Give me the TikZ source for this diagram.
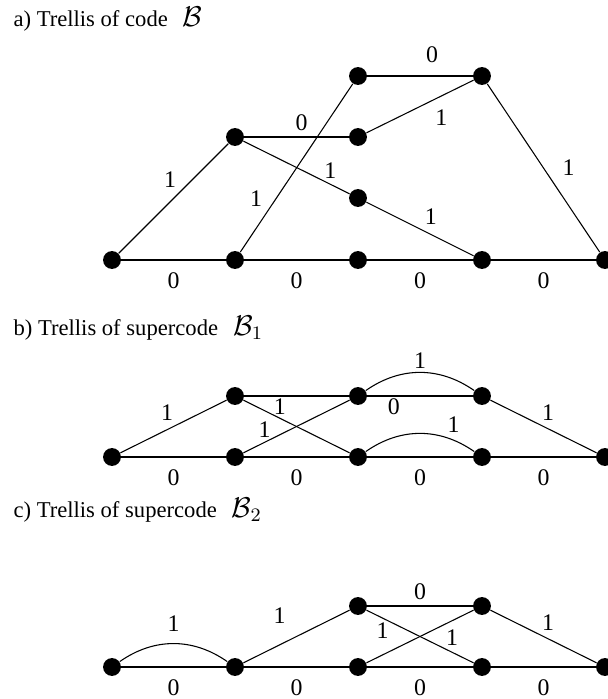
\documentclass[tikz,border=0pt]{standalone}
\usepackage{fontspec}
\setmainfont{Liberation Serif}

\begin{document}
\begin{tikzpicture}[
  x=0.42pt, y=-0.42pt,
  font=\fontsize{10}{12}\selectfont,
  line width=0.45pt,
  dot/.style={circle, fill, inner sep=0pt, minimum size=7.5pt},
  lab/.style={inner sep=0pt},
  bot/.style={lab, midway, below=5pt},
  title/.style={anchor=base west, inner sep=0pt, font=\fontsize{9.5}{11}\selectfont}
]
  \useasboundingbox (0,0) rectangle (608,699);

  \node[title] (ta) at (13,27) {a) Trellis of code\ \ \,{\large$\mathcal{B}$}};
  \node[title] (tb) at (13,335) {b) Trellis of supercode\ \ \,{\large$\mathcal{B}_1$}};
  \node[title] (tc) at (13,517) {c) Trellis of supercode\ \ \,{\large$\mathcal{B}_2$}};

  \node[dot] (a0) at (112,260) {};
  \node[dot] (a1t) at (235,137) {};
  \node[dot] (a1b) at (235,260) {};
  \node[dot] (a2t) at (358,76) {};
  \node[dot] (a2m) at (358,137) {};
  \node[dot] (a2l) at (358,198) {};
  \node[dot] (a2b) at (358,260) {};
  \node[dot] (a3t) at (482,76) {};
  \node[dot] (a3b) at (482,260) {};
  \node[dot] (a4) at (605,260) {};

  \draw (a0) -- node[bot] {0} (a1b);
  \draw (a0) -- node[lab, midway, shift={(-3.5,-18.5)}] {1} (a1t);
  \draw (a1b) -- node[bot] {0} (a2b);
  \draw (a1b) -- node[lab, pos=0.3, shift={(-18,-3)}] {1} (a2t);
  \draw (a1t) -- node[lab, midway, shift={(5,-14)}] {0} (a2m);
  \draw (a1t) -- node[lab, pos=0.8, shift={(2,-13)}] {1} (a2l);
  \draw (a2t) -- node[lab, midway, shift={(12,-21)}] {0} (a3t);
  \draw (a2m) -- node[lab, pos=0.7, shift={(0,22)}] {1} (a3t);
  \draw (a2l) -- node[lab, pos=0.6, shift={(0,-18)}] {1} (a3b);
  \draw (a2b) -- node[bot] {0} (a3b);
  \draw (a3t) -- node[lab, midway, shift={(25,0)}] {1} (a4);
  \draw (a3b) -- node[bot] {0} (a4);

  \node[dot] (b0) at (112,457) {};
  \node[dot] (b1t) at (235,396) {};
  \node[dot] (b1b) at (235,457) {};
  \node[dot] (b2t) at (358,396) {};
  \node[dot] (b2b) at (358,457) {};
  \node[dot] (b3t) at (482,396) {};
  \node[dot] (b3b) at (482,457) {};
  \node[dot] (b4) at (605,457) {};

  \draw (b0) -- node[lab, midway, shift={(-6.5,-13.5)}] {1} (b1t);
  \draw (b0) -- node[bot] {0} (b1b);
  \draw (b1t) -- node[lab, pos=0.34, shift={(0,11)}] {1} (b2t);
  \draw (b1t) -- (b2b);
  \draw (b1b) -- node[lab, pos=0.2, shift={(0,-13)}] {1} (b2t);
  \draw (b1b) -- node[bot] {0} (b2b);
  \draw (b2t) -- node[lab, pos=0.25, shift={(0,11)}] {0} (b3t);
  \draw (b2t) to[bend left=35] node[lab, midway, shift={(0,-12)}] {1} (b3t);
  \draw (b2b) -- node[bot] {0} (b3b);
  \draw (b2b) to[bend left=35] node[lab, pos=0.75, shift={(6,-13)}] {1} (b3b);
  \draw (b3t) -- node[lab, midway, shift={(4.5,-13.5)}] {1} (b4);
  \draw (b3b) -- node[bot] {0} (b4);

  \node[dot] (c0) at (112,667) {};
  \node[dot] (c1) at (235,667) {};
  \node[dot] (c2t) at (358,606) {};
  \node[dot] (c2b) at (358,667) {};
  \node[dot] (c3t) at (482,606) {};
  \node[dot] (c3b) at (482,667) {};
  \node[dot] (c4) at (605,667) {};

  \draw (c0) -- node[bot] {0} (c1);
  \draw (c0) to[bend left=35] node[lab, midway, shift={(0,-20)}] {1} (c1);
  \draw (c1) -- node[lab, pos=0.34, shift={(0,-29)}] {1} (c2t);
  \draw (c1) -- node[bot] {0} (c2b);
  \draw (c2t) -- node[lab, midway, shift={(0,-14)}] {0} (c3t);
  \draw (c2t) -- node[lab, pos=0.15, shift={(0,13)}] {1} (c3b);
  \draw (c2b) -- node[lab, pos=0.8, shift={(0,17)}] {1} (c3t);
  \draw (c2b) -- node[bot] {0} (c3b);
  \draw (c3t) -- node[lab, midway, shift={(4.5,-13.5)}] {1} (c4);
  \draw (c3b) -- node[bot] {0} (c4);
\end{tikzpicture}
\end{document}
